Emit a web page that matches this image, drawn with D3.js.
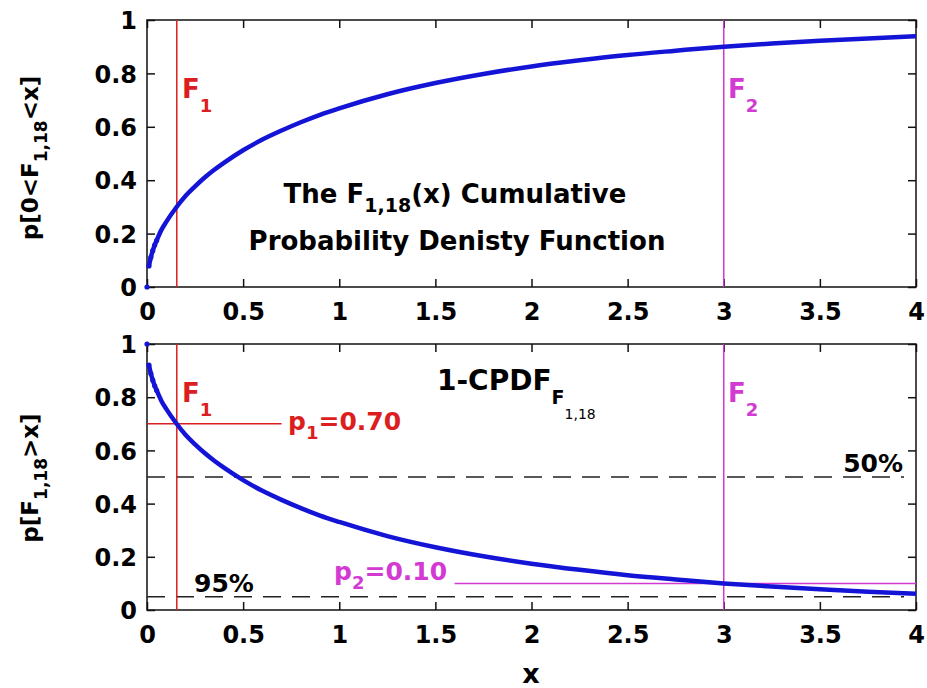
<!DOCTYPE html>
<html>
<head>
<meta charset="utf-8">
<script src="https://cdn.jsdelivr.net/npm/d3@7"></script>
<style>
  body { margin: 0; background: #fff; }
</style>
</head>
<body>
<div id="chart-area"></div>
<script>
// values
var xVals = [0, 0.01, 0.02, 0.03, 0.04, 0.05, 0.075, 0.1, 0.15, 0.2, 0.25, 0.3, 0.35, 0.4,
             0.5, 0.6, 0.7, 0.8, 0.9, 1.0, 1.25, 1.5, 1.75, 2.0, 2.25, 2.5, 2.75, 3.0,
             3.25, 3.5, 3.75, 4.0];
var cdfVals = [0, 0.079, 0.111, 0.136, 0.157, 0.174, 0.214, 0.244, 0.296, 0.341, 0.377, 0.410, 0.439, 0.465,
               0.512, 0.552, 0.586, 0.617, 0.645, 0.669, 0.722, 0.764, 0.798, 0.826, 0.849, 0.869, 0.885, 0.900,
               0.912, 0.922, 0.931, 0.939];
var fCrit = [0.155, 3.0];          // F1, F2
var pCrit = [0.70, 0.10];          // p1, p2
var pLineFrom = [0, 1.6];          // where the p-lines start on x
var pLineTo = [0.7, 4];
var refLevels = [0.5, 0.05];
var refLabels = ["50%", "95%"];
var xTicks = [0, 0.5, 1, 1.5, 2, 2.5, 3, 3.5, 4];
var xTickLabels = ["0", "0.5", "1", "1.5", "2", "2.5", "3", "3.5", "4"];
var yTicks = [0, 0.2, 0.4, 0.6, 0.8, 1];
var yTickLabels = ["0", "0.2", "0.4", "0.6", "0.8", "1"];

var FONT = "DejaVu Sans, Arial, sans-serif";
var BLUE = "#1414d6", RED = "#dc1e1e", MAG = "#d23ad2";

var width = 927, height = 688;
var left = 147, right = 916;
var panels = [{top: 20, bottom: 287, fLabel: 98}, {top: 344, bottom: 610, fLabel: 402}];

var svg = d3.select("#chart-area")
  .append("svg")
    .attr("width", width)
    .attr("height", height)
    .style("background", "#fff");

var x = d3.scaleLinear().domain([0, 4]).range([left, right]);

// text with sub parts: parts = [{t, dy, size, w}]
function richText(parent, px, py, parts, o) {
  var t = parent.append("text")
    .attr("x", px).attr("y", py)
    .attr("font-family", FONT)
    .attr("font-weight", "bold")
    .attr("font-size", o.size)
    .attr("fill", o.color || "#000")
    .attr("text-anchor", o.anchor || "start");
  if (o.rotate) t.attr("transform", "rotate(-90," + px + "," + py + ")");
  var cur = 0;
  parts.forEach(function(p) {
    var off = p.dy || 0;
    t.append("tspan")
      .attr("dy", off - cur)
      .attr("font-size", p.size || o.size)
      .attr("font-weight", p.w || "bold")
      .text(p.t);
    cur = off;
  });
  return t;
}

var line = d3.line()
  .x(function(d) { return x(d[0]); })
  .y(function(d) { return d[1]; })
  .curve(d3.curveMonotoneX);

panels.forEach(function(pn, k) {
  var y = d3.scaleLinear().domain([0, 1]).range([pn.bottom, pn.top]);
  var g = svg.append("g");
  var vals = cdfVals.map(function(v) { return k === 0 ? v : 1 - v; });

  // axes with inside ticks on all four sides
  g.append("g")
    .attr("transform", "translate(0," + pn.bottom + ")")
    .call(d3.axisBottom(x).tickValues(xTicks).tickSizeInner(-8).tickSizeOuter(0).tickPadding(16)
      .tickFormat(function(d, i) { return xTickLabels[i]; }));
  g.append("g")
    .attr("transform", "translate(0," + pn.top + ")")
    .call(d3.axisTop(x).tickValues(xTicks).tickSizeInner(-8).tickSizeOuter(0).tickFormat(""));
  var yl = g.append("g")
    .attr("transform", "translate(" + left + ",0)")
    .call(d3.axisLeft(y).tickValues(yTicks).tickSizeInner(-8).tickSizeOuter(0).tickPadding(10)
      .tickFormat(function(d, i) { return yTickLabels[i]; }));
  g.append("g")
    .attr("transform", "translate(" + right + ",0)")
    .call(d3.axisRight(y).tickValues(yTicks).tickSizeInner(-8).tickSizeOuter(0).tickFormat(""));
  g.selectAll(".tick line").attr("stroke", "#111").attr("stroke-width", 1.5);
  g.selectAll(".domain").attr("stroke", "none");
  g.selectAll(".tick text")
    .attr("font-family", FONT).attr("font-weight", "bold")
    .attr("font-size", 24).attr("fill", "#000");
  yl.selectAll(".tick text").attr("dy", "0.36em");

  g.append("rect")
    .attr("x", left).attr("y", pn.top)
    .attr("width", right - left).attr("height", pn.bottom - pn.top)
    .attr("fill", "none").attr("stroke", "#111").attr("stroke-width", 1.5);

  // reference dashed lines (lower panel)
  if (k === 1) {
    refLevels.forEach(function(r) {
      g.append("line")
        .attr("x1", x(0)).attr("x2", x(4) - 12)
        .attr("y1", y(r)).attr("y2", y(r))
        .attr("stroke", "#222").attr("stroke-width", 1.5)
        .attr("stroke-dasharray", "18,11");
    });
    richText(g, 903, 472, [{t: refLabels[0]}], {size: 25, anchor: "end"});
    richText(g, 194, 592, [{t: refLabels[1]}], {size: 25});

    // p lines
    g.append("line")
      .attr("x1", x(pLineFrom[0])).attr("x2", x(pLineTo[0]))
      .attr("y1", y(pCrit[0])).attr("y2", y(pCrit[0]))
      .attr("stroke", RED).attr("stroke-width", 1.5);
    g.append("line")
      .attr("x1", x(pLineFrom[1])).attr("x2", x(pLineTo[1]))
      .attr("y1", y(pCrit[1])).attr("y2", y(pCrit[1]))
      .attr("stroke", MAG).attr("stroke-width", 1.5);
    richText(g, 288, 430, [{t: "p"}, {t: "1", dy: 9, size: 18}, {t: "=0.70"}], {size: 25, color: RED});
    richText(g, 334, 580, [{t: "p"}, {t: "2", dy: 9, size: 18}, {t: "=0.10"}], {size: 25, color: MAG});
  }

  // critical F lines
  g.append("line")
    .attr("x1", x(fCrit[0])).attr("x2", x(fCrit[0]))
    .attr("y1", pn.top).attr("y2", pn.bottom)
    .attr("stroke", RED).attr("stroke-width", 1.5);
  g.append("line")
    .attr("x1", x(fCrit[1])).attr("x2", x(fCrit[1]))
    .attr("y1", pn.top).attr("y2", pn.bottom)
    .attr("stroke", MAG).attr("stroke-width", 1.5);
  richText(g, 182, pn.fLabel, [{t: "F"}, {t: "1", dy: 14, size: 18}], {size: 26, color: RED});
  richText(g, 728, pn.fLabel, [{t: "F"}, {t: "2", dy: 14, size: 18}], {size: 26, color: MAG});

  // the curve
  var pts = xVals.map(function(xv, i) { return [xv, y(vals[i])]; });
  g.append("path")
    .datum(pts.slice(1))
    .attr("d", line)
    .attr("fill", "none")
    .attr("stroke", BLUE)
    .attr("stroke-width", 4.5);
  g.selectAll(".dot")
    .data(pts.slice(0, 6))
    .enter()
    .append("circle")
      .attr("cx", function(d) { return x(d[0]); })
      .attr("cy", function(d) { return d[1]; })
      .attr("r", 2.6)
      .attr("fill", BLUE);
});

// titles inside the panels
richText(svg, 455, 203, [{t: "The F"}, {t: "1,18", dy: 9, size: 19}, {t: "(x) Cumulative"}],
  {size: 26, anchor: "middle"});
richText(svg, 457, 250, [{t: "Probability Denisty Function"}], {size: 26, anchor: "middle"});
richText(svg, 437, 390, [{t: "1-CPDF"}, {t: "F", dy: 14, size: 19}, {t: "1,18", dy: 29, size: 14, w: "normal"}],
  {size: 28});

// axis labels
richText(svg, 38, 158, [{t: "p[0<F"}, {t: "1,18", dy: 9, size: 17}, {t: "<x]"}],
  {size: 23, anchor: "middle", rotate: true});
richText(svg, 38, 478, [{t: "p[F"}, {t: "1,18", dy: 9, size: 17}, {t: ">x]"}],
  {size: 23, anchor: "middle", rotate: true});
richText(svg, 531, 683, [{t: "x"}], {size: 27, anchor: "middle"});
</script>
</body>
</html>
